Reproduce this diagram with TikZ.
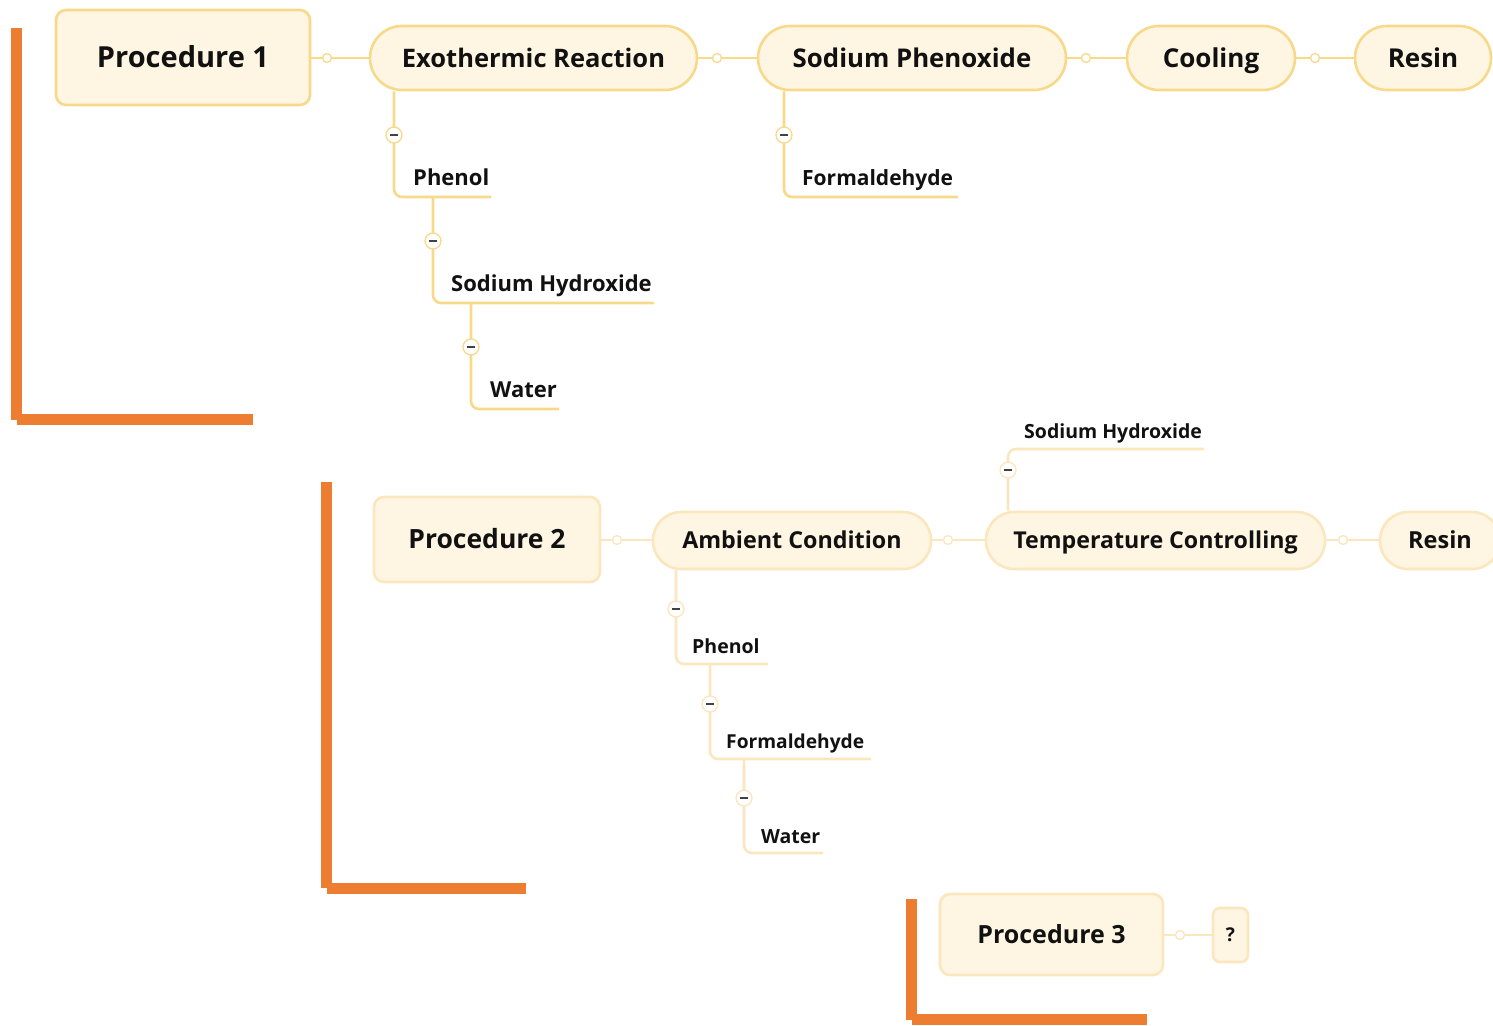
\documentclass[tikz,border=0pt]{standalone}
\usepackage{fontspec}
\setmainfont{Open Sans}
\usetikzlibrary{calc}
\definecolor{cream}{HTML}{FEF6E3}
\definecolor{bordA}{HTML}{F8D98A}
\definecolor{bordB}{HTML}{FBE6BD}
\definecolor{ink}{HTML}{111111}
\definecolor{bar}{HTML}{ED7D31}
\newcommand{\fs}[1]{\bfseries\fontsize{#1}{#1}\selectfont}
\tikzset{
  x=1pt, y=-1pt,
  boxA/.style={draw=bordA, fill=cream, line width=2.6pt, text=ink, inner sep=0pt,
    font=\fs{#1}, text height={0.71*#1pt}, text depth=0pt},
  boxB/.style={boxA=#1, draw=bordB},
  lab/.style={anchor=base west, inner sep=0pt, text=ink, font=\fs{#1}},
  connA/.style={draw=bordA, line width=2.2pt},
  connB/.style={draw=bordB, line width=2.2pt},
  brA/.style={draw=bordA, line width=2.6pt, rounded corners=8pt},
  brB/.style={draw=bordB, line width=2.6pt, rounded corners=8pt},
  dotA/.style={circle, draw=bordA, fill=white, line width=1.3pt, inner sep=0pt, minimum size=9pt},
  dotB/.style={dotA, draw=bordB},
  colA/.style={circle, draw=bordA, fill=white, line width=1.3pt, inner sep=0pt, minimum size=16pt,
    path picture={\draw[ink!80, line width=1.4pt] ([xshift=-3.8pt]path picture bounding box.center) -- ([xshift=3.8pt]path picture bounding box.center);}},
  colB/.style={colA, draw=bordB},
  barfill/.style={fill=bar, draw=none}
}
\begin{document}
\begin{tikzpicture}
\useasboundingbox (0,0) rectangle (1493,1025);
% orange bars
\fill[barfill] (11,28) rectangle (22,420);
\fill[barfill] (17,414) rectangle (253,425);
\fill[barfill] (321,482) rectangle (332,888);
\fill[barfill] (327,883) rectangle (526,894);
\fill[barfill] (906,899) rectangle (917,1020);
\fill[barfill] (912,1014) rectangle (1147,1025);

% ---- row 1 ----
\node[boxA=29, rounded corners=10pt, minimum width=254pt, minimum height=95pt] (p1) at (183,57.5) {Procedure 1};
\node[boxA=25.5, rounded corners=32pt, minimum width=327pt, minimum height=64pt] (exo) at (533.5,58) {Exothermic Reaction};
\node[boxA=25.8, rounded corners=32pt, minimum width=308pt, minimum height=64pt] (sp) at (912,58) {Sodium Phenoxide};
\node[boxA=26, rounded corners=32pt, minimum width=168pt, minimum height=64pt] (cool) at (1211,58) {Cooling};
\node[boxA=26, rounded corners=32pt, minimum width=136pt, minimum height=64pt] (res1) at (1423,58) {Resin};

\coordinate (d1) at (327,58);
\coordinate (d2) at (717,58);
\coordinate (d3) at (1086,58);
\coordinate (d4) at (1315,58);
\draw[connA] (p1.east |- d1) -- (d1) -- (d1 -| exo.west);
\draw[connA] (exo.east |- d2) -- (d2) -- (d2 -| sp.west);
\draw[connA] (sp.east |- d3) -- (d3) -- (d3 -| cool.west);
\draw[connA] (cool.east |- d4) -- (d4) -- (d4 -| res1.west);
\node[dotA] (o1) at (d1) {};
\node[dotA] (o2) at (d2) {};
\node[dotA] (o3) at (d3) {};
\node[dotA] (o4) at (d4) {};

\node[lab=22] (ph1) at (413,185) {Phenol};
\node[lab=22] (nh1) at (451,291) {Sodium Hydroxide};
\node[lab=22] (w1) at (490,397) {Water};
\node[lab=21] (f1) at (802,185) {Formaldehyde};

\coordinate (u1) at (491,197);
\coordinate (u2) at (654,303);
\coordinate (u3) at (559,409);
\coordinate (u4) at (958,197);
\draw[brA] (exo.south -| 394,0) |- (u1);
\draw[brA] (433,197) |- (u2);
\draw[brA] (471,303) |- (u3);
\draw[brA] (sp.south -| 784,0) |- (u4);
\node[colA] (c1) at (394,135) {};
\node[colA] (c2) at (433,241) {};
\node[colA] (c3) at (471,347) {};
\node[colA] (c4) at (784,135) {};

% ---- row 2 ----
\node[boxB=26.5, rounded corners=10pt, minimum width=226pt, minimum height=85pt] (p2) at (487,539.5) {Procedure 2};
\node[boxB=23.3, rounded corners=28pt, minimum width=278pt, minimum height=57pt] (amb) at (792,540.5) {Ambient Condition};
\node[boxB=23.2, rounded corners=28pt, minimum width=339pt, minimum height=57pt] (temp) at (1155.5,540.5) {Temperature Controlling};
\node[boxB=23.5, rounded corners=28pt, minimum width=120pt, minimum height=57pt] (res2) at (1440,540.5) {Resin};

\coordinate (e1) at (617,540);
\coordinate (e2) at (948,540);
\coordinate (e3) at (1343,540);
\draw[connB] (p2.east |- e1) -- (e1) -- (e1 -| amb.west);
\draw[connB] (amb.east |- e2) -- (e2) -- (e2 -| temp.west);
\draw[connB] (temp.east |- e3) -- (e3) -- (e3 -| res2.west);
\node[dotB] (g1) at (e1) {};
\node[dotB] (g2) at (e2) {};
\node[dotB] (g3) at (e3) {};

\node[lab=19.5] (nh2) at (1024,438) {Sodium Hydroxide};
\node[lab=19.5] (ph2) at (692,653) {Phenol};
\node[lab=19.2] (f2) at (726,748) {Formaldehyde};
\node[lab=19.5] (w2) at (761,843) {Water};

\coordinate (v1) at (1204,449);
\coordinate (v2) at (768,664);
\coordinate (v3) at (871,759);
\coordinate (v4) at (823,853);
\draw[brB] (temp.north -| 1008,0) |- (v1);
\draw[brB] (amb.south -| 676,0) |- (v2);
\draw[brB] (710,664) |- (v3);
\draw[brB] (744,759) |- (v4);
\node[colB] (k1) at (1008,470) {};
\node[colB] (k2) at (676,609) {};
\node[colB] (k3) at (710,704) {};
\node[colB] (k4) at (744,798) {};

% ---- row 3 ----
\node[boxB=25, rounded corners=10pt, minimum width=223pt, minimum height=81pt] (p3) at (1051.5,934.5) {Procedure 3};
\node[boxB=19, rounded corners=7pt, minimum width=35pt, minimum height=54pt] (q) at (1230.5,935) {?};
\coordinate (e4) at (1180,935);
\draw[connB] (p3.east |- e4) -- (e4) -- (e4 -| q.west);
\node[dotB] (g4) at (e4) {};
\end{tikzpicture}
\end{document}
